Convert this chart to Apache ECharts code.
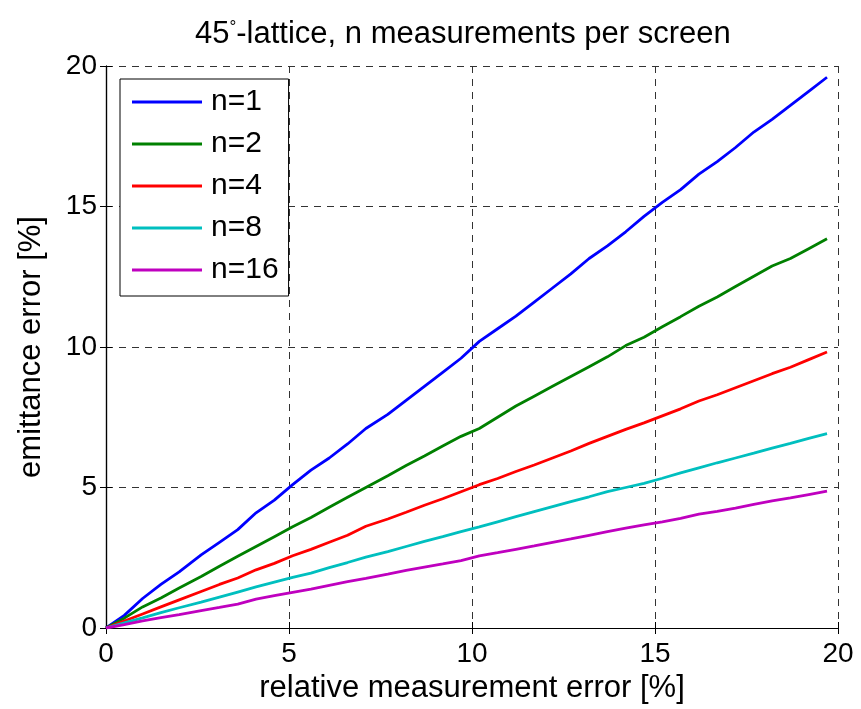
<!DOCTYPE html>
<html>
<head>
<meta charset="utf-8">
<script src="https://cdn.jsdelivr.net/npm/echarts@6/dist/echarts.min.js"></script>
<style>
  html, body { margin: 0; padding: 0; background: #fff; }
  #chart { width: 861px; height: 709px; }
</style>
</head>
<body>
<div id="chart"></div>
<script>
// relative measurement error [%] at which each curve is sampled
const measErr = [0, 0.5, 1, 1.5, 2, 2.6, 3.1, 3.6, 4.1, 4.6, 5.1, 5.6, 6.1, 6.6, 7.1, 7.7, 8.2, 8.7, 9.2, 9.7,
  10.2, 10.7, 11.2, 11.7, 12.2, 12.7, 13.2, 13.7, 14.2, 14.7, 15.2, 15.7, 16.2, 16.7, 17.2, 17.7, 18.2, 18.7, 19.2, 19.7];

// emittance error [%] for n measurements per screen
const errN1 = [0, 0.45, 1.05, 1.55, 2.0, 2.6, 3.05, 3.5, 4.1, 4.55, 5.1, 5.62, 6.05, 6.55, 7.1, 7.6, 8.1, 8.6, 9.1, 9.6,
  10.2, 10.65, 11.1, 11.6, 12.1, 12.6, 13.15, 13.6, 14.1, 14.65, 15.15, 15.6, 16.15, 16.6, 17.1, 17.65, 18.1, 18.6, 19.1, 19.6];
const errN2 = [0, 0.35, 0.75, 1.07, 1.42, 1.83, 2.2, 2.55, 2.9, 3.25, 3.6, 3.93, 4.3, 4.65, 5.0, 5.42, 5.78, 6.12, 6.48, 6.82,
  7.1, 7.5, 7.9, 8.25, 8.6, 8.95, 9.3, 9.65, 10.05, 10.35, 10.72, 11.08, 11.45, 11.78, 12.15, 12.52, 12.88, 13.15, 13.5, 13.85];
const errN4 = [0, 0.25, 0.5, 0.75, 1.0, 1.3, 1.55, 1.78, 2.07, 2.3, 2.57, 2.8, 3.05, 3.3, 3.62, 3.88, 4.12, 4.37, 4.6, 4.85,
  5.1, 5.32, 5.57, 5.8, 6.05, 6.3, 6.57, 6.82, 7.07, 7.3, 7.55, 7.8, 8.08, 8.3, 8.55, 8.8, 9.05, 9.28, 9.55, 9.82];
const errN8 = [0, 0.18, 0.36, 0.55, 0.72, 0.92, 1.1, 1.28, 1.46, 1.63, 1.8, 1.95, 2.15, 2.33, 2.52, 2.72, 2.9, 3.08, 3.25, 3.43,
  3.6, 3.78, 3.96, 4.14, 4.32, 4.5, 4.67, 4.85, 5.0, 5.15, 5.33, 5.52, 5.7, 5.88, 6.05, 6.22, 6.4, 6.57, 6.75, 6.92];
const errN16 = [0, 0.12, 0.25, 0.37, 0.48, 0.62, 0.73, 0.85, 1.03, 1.15, 1.27, 1.38, 1.52, 1.65, 1.77, 1.92, 2.05, 2.17, 2.28, 2.4,
  2.57, 2.68, 2.8, 2.92, 3.05, 3.17, 3.3, 3.43, 3.55, 3.67, 3.78, 3.9, 4.05, 4.15, 4.27, 4.4, 4.52, 4.63, 4.75, 4.87];

const seriesNames = ['n=1', 'n=2', 'n=4', 'n=8', 'n=16'];
const seriesValues = [errN1, errN2, errN4, errN8, errN16];
const seriesColors = ['#0000ff', '#008000', '#ff0000', '#00bfbf', '#bf00bf'];

const axisTicks = [0, 5, 10, 15, 20];

const FONT = '"Liberation Sans", Arial, sans-serif';

const chart = echarts.init(document.getElementById('chart'), null, { renderer: 'canvas' });

const gridLine = { show: true, lineStyle: { color: '#333', type: [7, 6], width: 1 } };
const frameLine = { show: true, lineStyle: { color: '#000', width: 1.2 } };
const innerTick = { show: true, inside: true, length: 6, lineStyle: { color: '#000', width: 1 } };

chart.setOption({
  backgroundColor: '#fff',
  animation: false,
  title: {
    text: '45{sup|°}-lattice, n measurements per screen',
    left: 190,
    top: 14,
    textStyle: {
      fontFamily: FONT, fontSize: 31, fontWeight: 'normal', color: '#000',
      rich: {
        sup: { fontFamily: FONT, fontSize: 17, verticalAlign: 'top', padding: [0, 0, 14, 0], color: '#000' }
      }
    }
  },
  grid: { left: 106, right: 23, top: 66, bottom: 79, containLabel: false },
  legend: {
    orient: 'vertical',
    left: 120,
    top: 79,
    padding: [8, 10, 11, 12],
    itemWidth: 70,
    itemHeight: 14,
    itemGap: 12,
    borderColor: '#000',
    borderWidth: 1,
    backgroundColor: '#fff',
    textStyle: { fontFamily: FONT, fontSize: 30, color: '#000', lineHeight: 30, padding: [0, 0, 0, 4] },
    data: seriesNames.map(n => ({ name: n, icon: 'path://M0,0 L70,0 L70,3 L0,3 Z' }))
  },
  xAxis: [
    {
      type: 'value', min: 0, max: 20, interval: 5,
      name: 'relative measurement error [%]',
      nameLocation: 'middle', nameGap: 45,
      nameTextStyle: { fontFamily: FONT, fontSize: 31, color: '#000' },
      axisLine: frameLine, axisTick: innerTick,
      axisLabel: { fontFamily: FONT, fontSize: 28, color: '#000', margin: 12,
        formatter: v => axisTicks.includes(v) ? String(v) : '' },
      splitLine: gridLine
    },
    {
      type: 'value', min: 0, max: 20, interval: 5, position: 'top',
      axisLine: frameLine, axisTick: innerTick, axisLabel: { show: false }, splitLine: { show: false }
    }
  ],
  yAxis: [
    {
      type: 'value', min: 0, max: 20, interval: 5,
      name: 'emittance error [%]',
      nameLocation: 'middle', nameGap: 59,
      nameTextStyle: { fontFamily: FONT, fontSize: 31, color: '#000' },
      axisLine: frameLine, axisTick: innerTick,
      axisLabel: { fontFamily: FONT, fontSize: 28, color: '#000', margin: 9,
        formatter: v => axisTicks.includes(v) ? String(v) : '' },
      splitLine: gridLine
    },
    {
      type: 'value', min: 0, max: 20, interval: 5, position: 'right',
      axisLine: frameLine, axisTick: innerTick, axisLabel: { show: false }, splitLine: { show: false }
    }
  ],
  series: seriesNames.map((name, i) => ({
    name,
    type: 'line',
    showSymbol: false,
    symbol: 'none',
    smooth: false,
    color: seriesColors[i],
    lineStyle: { color: seriesColors[i], width: 2.8 },
    data: measErr.map((x, k) => [x, seriesValues[i][k]])
  }))
});
</script>
</body>
</html>
